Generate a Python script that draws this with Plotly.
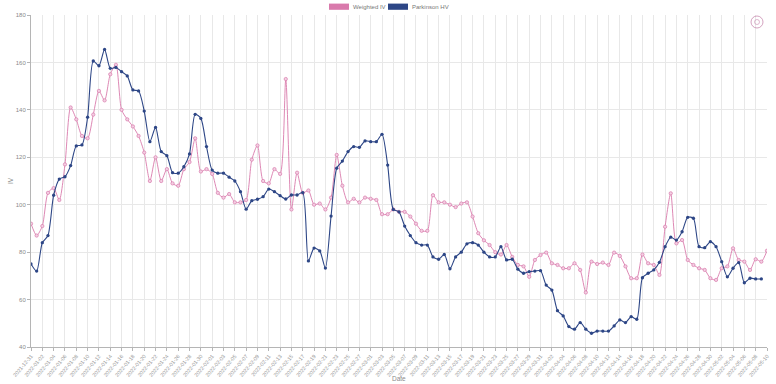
import pandas as pd
import plotly.graph_objects as go

# ---- data ----
start_date = "2021-12-31"
n_days = 131
dates = list(pd.date_range(start_date, periods=n_days, freq="D").strftime("%Y-%m-%d"))
tick_labels = dates[::2]

weighted_iv = [
    92, 87, 91, 105, 107, 102, 117, 141, 136, 129,
    128, 138, 148, 144, 155, 159, 140, 136, 133, 129,
    122, 110, 120, 110, 115, 109, 108, 115, 118, 128,
    114, 115, 113, 105, 103, 104.5, 101, 101, 102, 119,
    125, 110, 109, 115, 113, 153, 98, 113.5, 105, 106,
    100, 100.5, 98, 103, 121, 108, 101, 102.5, 101, 103,
    102.5, 102, 96, 96, 98, 97, 97, 95, 92, 89,
    89, 104, 101, 101, 100, 99, 100.5, 101, 95, 88,
    85, 83, 80, 79, 83, 78, 74.6, 74, 69.6, 76.7,
    78.8, 79.8, 75.3, 74.6, 73.2, 73.2, 75.3, 72.5, 63, 76,
    75, 75.6, 74.6, 79.8, 78.4, 74, 69, 69, 79, 75.3,
    74.6, 70.4, 90.7, 104.8, 83.7, 85.1, 76.7, 74.6, 73.2, 72.5,
    69, 68.3, 73.2, 74, 81.6, 76.7, 76, 72.5, 77, 76,
    80.6,
]

parkinson_hv = [
    75, 72, 84, 87, 104, 110.8, 111.8, 116.5, 124.8, 125.2,
    136.9, 160.6, 158.6, 165.5, 157.5, 157.9, 156.1, 154.3, 148.4, 148,
    139.5, 126.6, 132.6, 122.4, 120.7, 113.5, 113.3, 116, 121.4, 138.1,
    136.4, 124.5, 114.6, 113.3, 113.3, 111.6, 110, 105.5, 98.1, 101.7,
    102.3, 103.4, 106.6, 105.5, 103.8, 102.4, 104.1, 104.1, 105.1, 76.3,
    81.7, 80.5, 73.3, 95.2, 115.4, 118.4, 122.4, 124.5, 124.2, 126.9,
    126.6, 126.6, 129.7, 116.7, 98, 97, 91, 87, 84, 83,
    83, 78, 77, 79, 73, 78, 80, 83.5, 84, 83,
    80, 78, 78, 82.3, 76.7, 77, 72.8, 71.1, 71.8, 72,
    72.2, 66.1, 64, 55.3, 53.1, 48.6, 47.5, 50.3, 47.5, 45.8,
    46.7, 46.7, 46.7, 48.9, 51.4, 50.3, 52.8, 51.7, 69.2, 71.1,
    72.5, 75.7, 82.3, 86.3, 85.1, 88.6, 94.7, 94.3, 82.3, 81.9,
    84.4, 82.3, 76, 69.6, 73.2, 75.6, 67.1, 69, 68.7, 68.7,
]

series_names = ["Weighted IV", "Parkinson HV"]
y_ticks = [40, 60, 80, 100, 120, 140, 160, 180]

# ---- style ----
PINK = "#d97aac"
BLUE = "#2d4686"
GRID = "#e8e8e8"
AXIS = "#b5b5b5"
TEXT = "#8a8a8a"
FONT = "Liberation Sans"

fig = go.Figure()
fig.add_trace(go.Scatter(
    x=dates, y=weighted_iv, name=series_names[0], mode="lines+markers",
    line=dict(color=PINK, width=0.9, shape="spline", smoothing=0.7),
    marker=dict(size=3.3, color="#f3cfe2", line=dict(color=PINK, width=0.7)),
    showlegend=False,
))
fig.add_trace(go.Scatter(
    x=dates[:len(parkinson_hv)], y=parkinson_hv, name=series_names[1], mode="lines+markers",
    line=dict(color=BLUE, width=1.1, shape="spline", smoothing=0.7),
    marker=dict(size=3.3, color=BLUE),
    showlegend=False,
))

L, R, T, B = 31, 9, 15, 37
W, H = 776, 384
pw, ph = W - L - R, H - T - B

def px_x(x):
    return (x - L) / pw

def px_y(y):
    return (H - B - y) / ph

shapes = []
annotations = []
# legend swatches
legend_items = [(series_names[0], PINK, 329, 349), (series_names[1], BLUE, 388, 408)]
for name, col, x0, x1 in legend_items:
    shapes.append(dict(type="rect", xref="paper", yref="paper",
                       x0=px_x(x0), x1=px_x(x1), y0=px_y(9.8), y1=px_y(3.6),
                       fillcolor=col, line=dict(width=0)))
    annotations.append(dict(text=name, xref="paper", yref="paper",
                            x=px_x(x1 + 2), y=px_y(7), xanchor="left", yanchor="middle",
                            showarrow=False, font=dict(family=FONT, size=6, color="#777")))
# toolbox icon
shapes.append(dict(type="circle", xref="paper", yref="paper",
                   x0=px_x(751), x1=px_x(763), y0=px_y(28), y1=px_y(16),
                   line=dict(color="#c98bb0", width=0.8)))
shapes.append(dict(type="circle", xref="paper", yref="paper",
                   x0=px_x(754.5), x1=px_x(759.5), y0=px_y(24.5), y1=px_y(19.5),
                   line=dict(color="#c98bb0", width=0.6)))
# axis titles
annotations.append(dict(text="Date", xref="paper", yref="paper", x=0.5, y=px_y(378),
                        xanchor="center", yanchor="middle", showarrow=False,
                        font=dict(family=FONT, size=6.5, color=TEXT)))
annotations.append(dict(text="IV", xref="paper", yref="paper", x=px_x(10), y=px_y(181),
                        xanchor="center", yanchor="middle", showarrow=False, textangle=-90,
                        font=dict(family=FONT, size=6.5, color=TEXT)))

fig.update_layout(
    width=W, height=H,
    margin=dict(l=L, r=R, t=T, b=B, autoexpand=False),
    paper_bgcolor="white", plot_bgcolor="white",
    font=dict(family=FONT, size=7, color=TEXT),
    shapes=shapes, annotations=annotations,
    xaxis=dict(
        type="category", range=[0, len(dates) - 1],
        tickmode="array", tickvals=tick_labels, ticktext=tick_labels,
        tickangle=-50, tickfont=dict(size=5.3, color="#999999", family=FONT),
        showgrid=True, gridcolor=GRID, gridwidth=1,
        showline=True, linecolor=AXIS, linewidth=1,
        ticks="outside", ticklen=3, tickcolor=AXIS,
        zeroline=False, automargin=False,
    ),
    yaxis=dict(
        range=[40, 180], tickvals=y_ticks,
        tickfont=dict(size=6, color=TEXT, family=FONT),
        showgrid=True, gridcolor=GRID, gridwidth=1,
        showline=True, linecolor=AXIS, linewidth=1,
        ticks="outside", ticklen=3, tickcolor=AXIS,
        zeroline=False, automargin=False,
    ),
)

fig.write_html("out.html", config={"displayModeBar": False},
               post_script="document.body.style.margin='0';")
